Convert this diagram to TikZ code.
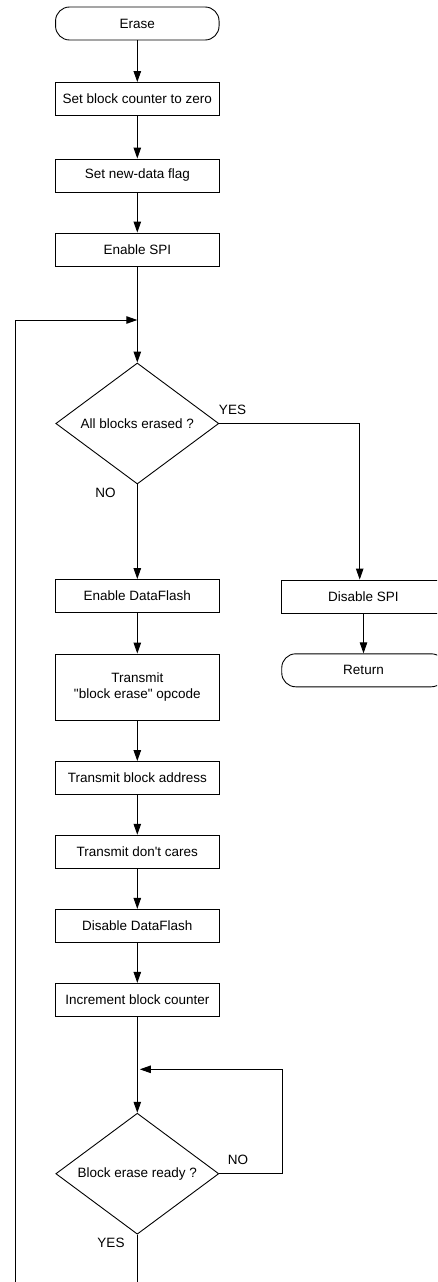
\documentclass[tikz,border=0pt]{standalone}
\usepackage{fontspec}
\setmainfont{Liberation Sans}
\newfontfamily\lsans{Liberation Sans}
\usetikzlibrary{arrows.meta,shapes.geometric}
\begin{document}
\begin{tikzpicture}[x=1pt,y=1pt,
  font=\lsans\fontsize{13.5}{16}\selectfont,
  line width=0.9pt,
  box/.style={draw,minimum width=163.5pt,minimum height=33pt,inner sep=0pt,align=center},
  term/.style={box,rounded corners=14pt},
  dia/.style={draw,diamond,minimum width=163pt,minimum height=121pt,inner sep=0pt},
  arr/.style={-{Triangle[length=11pt,width=7.5pt]}},
  lbl/.style={inner sep=0pt}]
\clip (0,0) rectangle (437,-1282);
\node[term] (erase) at (137.3,-23.5) {Erase};
\node[box] (b1) at (137.3,-99) {Set block counter to zero};
\node[box] (b2) at (137.3,-175.5) {Set new-data flag};
\node[box] (b3) at (137.3,-249.5) {Enable SPI};
\coordinate (j1) at (137.3,-320);
\coordinate (l1) at (15.7,-320);
\node[dia] (d1) at (137.3,-423.5) {};
\node (d1t) at (d1) {All blocks erased ?};
\node[lbl] (yes1) at (232.5,-410) {YES};
\node[lbl] (no1) at (105.5,-493) {NO};
\node[box] (edf) at (137.3,-596) {Enable DataFlash};
\node[box] (dspi) at (363.5,-596.5) {Disable SPI};
\node[term] (ret) at (363.5,-670.3) {Return};
\node[box,minimum height=66pt] (top) at (137.3,-687) {Transmit\\"block erase" opcode};
\node[box] (tba) at (137.3,-778) {Transmit block address};
\node[box] (tdc) at (137.3,-851.7) {Transmit don't cares};
\node[box] (ddf) at (137.3,-925.8) {Disable DataFlash};
\node[box] (inc) at (137.3,-999.8) {Increment block counter};
\coordinate (j2) at (137.3,-1069.3);
\coordinate (r2) at (282.7,-1069.3);
\node[dia] (d2) at (137.3,-1173.7) {};
\node (d2t) at (d2) {Block erase ready ?};
\node[lbl] (no2) at (238,-1160) {NO};
\node[lbl] (yes2) at (111,-1243) {YES};
\coordinate (bot) at (137.3,-1290);
\coordinate (lbot) at (15.7,-1290);
\draw[arr] (erase) -- (b1);
\draw[arr] (b1) -- (b2);
\draw[arr] (b2) -- (b3);
\draw[arr] (b3) -- (d1.north);
\draw[arr] (lbot) -- (l1) -- (j1);
\draw[arr] (d1.east) -| ([xshift=-3.8pt]dspi.north);
\draw[arr] (dspi) -- (ret);
\draw[arr] (d1.south) -- (edf);
\draw[arr] (edf) -- (top);
\draw[arr] (top) -- (tba);
\draw[arr] (tba) -- (tdc);
\draw[arr] (tdc) -- (ddf);
\draw[arr] (ddf) -- (inc);
\draw[arr] (inc) -- (d2.north);
\draw[arr] (d2.east) -- (r2 |- d2.east) -- (r2) -- ([xshift=2.5pt]j2);
\draw (d2.south) -- (bot);
\end{tikzpicture}
\end{document}
